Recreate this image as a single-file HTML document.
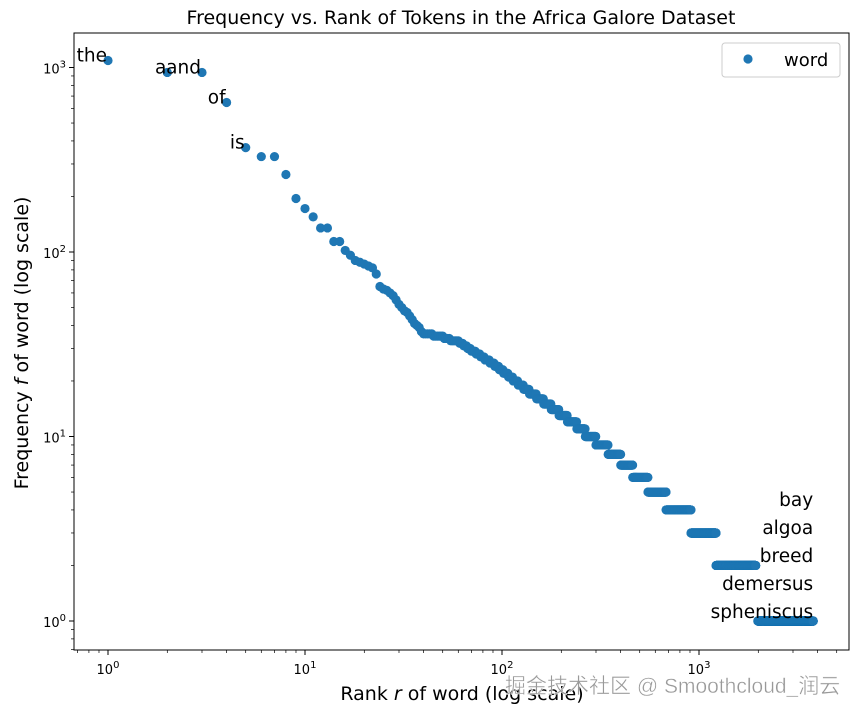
<!DOCTYPE html>
<html><head><meta charset="utf-8"><style>
body{margin:0;background:#fff;}
svg{font-family:"DejaVu Sans","Liberation Sans",sans-serif;}
</style></head><body>
<svg id="chart" width="858" height="716" xmlns="http://www.w3.org/2000/svg">
<rect width="858" height="716" fill="#fff"/>
<text x="461" y="24" font-size="19" text-anchor="middle">Frequency vs. Rank of Tokens in the Africa Galore Dataset</text>
<g id="plot"></g>
<text x="462" y="700" font-size="19" text-anchor="middle">Rank <tspan font-style="italic">r</tspan> of word (log scale)</text>
<text transform="translate(28,343) rotate(-90)" font-size="19" text-anchor="middle">Frequency <tspan font-style="italic">f</tspan> of word (log scale)</text>
<g>
<rect x="722" y="43" width="118" height="34" rx="3" fill="#fff" stroke="#ccc"/>
<circle cx="748" cy="59" r="4.6" fill="#1f77b4"/>
<text x="784" y="66" font-size="18">word</text>
</g>
<text x="505" y="693" font-size="21" fill="#999" stroke="#fff" stroke-width="0.4" font-family="'Liberation Sans','Noto Sans CJK SC',sans-serif">掘金技术社区 @ Smoothcloud_润云</text>
</svg>
<script>
// top ranks (explicit)
const topFreqs = [1091,940,940,646,368,329,329,263,195,172,155,135,135,114,114,102,96,90,88,86,84,82,76,65,63,62,60,58,55,52,50,48,47,45,43,41,40,39,37];
// frequency levels with rank ranges
const levelFreqs = [36,35,34,33,32,31,30,29,28,27,26,25,24,23,22,21,20,19,18,17,16,15,14,13,12,11,10,9,8,7,6,5,4,3,2,1];
const levelFirst = [40,45,51,55,61,64,67,70,74,78,82,87,92,97,102,108,114,121,129,138,150,163,178,195,215,240,265,300,346,401,461,551,681,911,1221,1990];
const levelLast  = [44,50,54,60,63,66,69,73,77,81,86,91,96,101,107,113,120,128,137,149,162,177,194,214,239,264,299,345,400,460,550,680,910,1220,1940,3800];
const topWords = ["the","a","and","of","is"];
const bottomWords = ["bay","algoa","breed","demersus","spheniscus"];
const xTickLabels = ["0","1","2","3"];
const yTickLabels = ["0","1","2","3"];

const NS="http://www.w3.org/2000/svg";
const L=74,R=849,T=33,B=650;
const xs=r=>108+197*Math.log10(r);
const ys=f=>621-184.5*Math.log10(f);
const g=document.getElementById('plot');
function mk(tag,attrs){const e=document.createElementNS(NS,tag);for(const k in attrs)e.setAttribute(k,attrs[k]);g.appendChild(e);return e;}

const pts=[];
topFreqs.forEach((f,i)=>pts.push([i+1,f]));
levelFreqs.forEach((f,i)=>{for(let r=levelFirst[i];r<=levelLast[i];r++)pts.push([r,f]);});
pts.forEach(p=>{
  const c=mk('circle',{cx:xs(p[0]),cy:ys(p[1]),r:4.6,fill:'#1f77b4'});
  
  
});
topWords.forEach((w,i)=>{
  const t=mk('text',{x:xs(i+1)-1,y:ys(topFreqs[i])+1,'font-size':18.5,'text-anchor':'end'});
  t.textContent=w;
  
  
});
const lastR=levelLast[levelLast.length-1];
bottomWords.forEach((w,i)=>{
  const t=mk('text',{x:xs(lastR),y:506+28*i,'font-size':18.5,'text-anchor':'end'});
  t.textContent=w;
  
  
});
const fr=mk('rect',{x:L,y:T,width:R-L,height:B-T,fill:'none',stroke:'#000','stroke-width':1});


for(let d=-1;d<=3;d++){for(let m=1;m<10;m++){const v=Math.pow(10,d)*m;const x=xs(v);if(x<L||x>R)continue;
  mk('line',{x1:x,x2:x,y1:B,y2:B+(m==1?5:3),stroke:'#000','stroke-width':m==1?1:0.7});}}
xTickLabels.forEach(e=>{
  const t=mk('text',{x:xs(Math.pow(10,+e)),y:B+24,'font-size':13,'text-anchor':'middle'});
  t.innerHTML='10<tspan dy="-6" font-size="10">'+e+'</tspan>';
  
  
});
for(let d=-1;d<=3;d++){for(let m=1;m<10;m++){const v=Math.pow(10,d)*m;const y=ys(v);if(y<T||y>B)continue;
  mk('line',{x1:L,x2:L-(m==1?5:3),y1:y,y2:y,stroke:'#000','stroke-width':m==1?1:0.7});}}
yTickLabels.forEach(e=>{
  const t=mk('text',{x:L-8,y:ys(Math.pow(10,+e))+6,'font-size':13,'text-anchor':'end'});
  t.innerHTML='10<tspan dy="-6" font-size="10">'+e+'</tspan>';
  
  
});
</script>
</body></html>
